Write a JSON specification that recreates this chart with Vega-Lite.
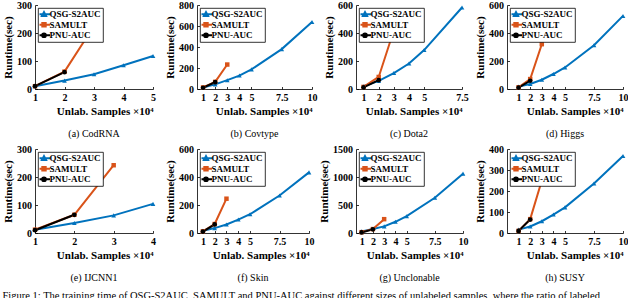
{
  "$schema": "https://vega.github.io/schema/vega-lite/v6.json",
  "padding": {"left": 2, "top": 0, "right": 0, "bottom": 0},
  "background": "white",
  "columns": 4,
  "align": "each",
  "bounds": "flush",
  "spacing": {"row": 60, "column": 44},
  "resolve": {"scale": {"color": "independent"}, "legend": {"color": "independent"}},
  "title": {"text": "Figure 1: The training time of QSG-S2AUC, SAMULT and PNU-AUC against different sizes of unlabeled samples, where the ratio of labeled", "orient": "bottom", "anchor": "start", "offset": 8, "fontSize": 10.5, "fontWeight": "normal", "font": "Liberation Serif", "color": "#000"},
  "config": {
    "view": {"stroke": null},
    "font": "Liberation Serif",
    "title": {"orient": "bottom", "offset": 12, "fontSize": 10, "fontWeight": "normal", "font": "Liberation Serif", "anchor": "middle", "color": "#000"},
    "axis": {"grid": false, "domainColor": "#000", "domainWidth": 0.8, "tickColor": "#000", "tickSize": -2.5, "tickWidth": 0.8, "labelFont": "Liberation Serif", "labelFontWeight": "bold", "labelFontSize": 10, "labelColor": "#000", "titleFont": "Liberation Serif", "titleFontWeight": "bold", "titleFontSize": 11, "titleColor": "#000", "labelOverlap": false, "labelFlush": false, "labelExpr": "toString(datum.value)"},
    "axisX": {"labelPadding": 6, "titlePadding": 3, "titleAnchor": "end"},
    "axisY": {"labelPadding": 6, "titlePadding": 3},
    "legend": {"orient": "top-left", "offset": 3, "padding": 1.5, "rowPadding": 0.5, "clipHeight": 9.5, "fillColor": "white", "strokeColor": "#000", "strokeWidth": 0.8, "labelFont": "Liberation Serif", "labelFontWeight": "bold", "labelFontSize": 9, "labelColor": "#000", "symbolSize": 36, "symbolOffset": 0, "labelOffset": 1, "symbolStrokeWidth": 1.8}
  },
  "concat": [
    {
      "width": 118, "height": 84,
      "title": "(a) CodRNA",
      "data": {"values": [
        {"n": 1, "t": 10, "s": "QSG-S2AUC"}, {"n": 2, "t": 30, "s": "QSG-S2AUC"}, {"n": 3, "t": 53, "s": "QSG-S2AUC"}, {"n": 4, "t": 85, "s": "QSG-S2AUC"}, {"n": 5, "t": 118, "s": "QSG-S2AUC"},
        {"n": 1, "t": 10, "s": "SAMULT"}, {"n": 2, "t": 62, "s": "SAMULT"}, {"n": 3, "t": 225, "s": "SAMULT"},
        {"n": 1, "t": 10, "s": "PNU-AUC"}, {"n": 2, "t": 60, "s": "PNU-AUC"}
      ]},
      "encoding": {
        "x": {"field": "n", "type": "quantitative", "scale": {"domain": [1, 5], "nice": false, "zero": false}, "axis": {"values": [1, 2, 3, 4, 5], "title": "Unlab. Samples ×10⁴"}},
        "y": {"field": "t", "type": "quantitative", "scale": {"domain": [0, 300], "nice": false}, "axis": {"values": [0, 100, 200, 300], "title": "Runtime(sec)"}}
      },
      "layer": [
        {"mark": {"type": "line", "strokeWidth": 2}, "encoding": {"color": {"field": "s", "type": "nominal", "scale": {"domain": ["QSG-S2AUC", "SAMULT", "PNU-AUC"], "range": ["#0072BD", "#D95319", "#000000"]},
          "legend": {"title": null, "fillColor": "white", "strokeColor": "#000", "symbolSize": 36, "symbolStrokeWidth": 1.8, "symbolOpacity": 1, "clipHeight": 9.5, "symbolOffset": 0, "labelOffset": 1,
            "symbolType": {"expr": "datum.value === 'QSG-S2AUC' ? 'M-2,0H2M0,-0.8L0.75,0.6L-0.75,0.6Z' : datum.value === 'SAMULT' ? 'M-2,0H2M-0.6,-0.6H0.6V0.6H-0.6Z' : 'M-2,0H2M-0.65,0A0.65,0.65,0,1,1,0.65,0A0.65,0.65,0,1,1,-0.65,0Z'"},
            "symbolFillColor": {"expr": "datum.value === 'QSG-S2AUC' ? '#0072BD' : datum.value === 'SAMULT' ? '#D95319' : '#000000'"}}}}},
        {"transform": [{"filter": "datum.s === 'QSG-S2AUC'"}], "mark": {"type": "point", "filled": true, "shape": "triangle-up", "size": 22, "opacity": 1, "color": "#0072BD"}, "encoding": {}},
        {"transform": [{"filter": "datum.s === 'SAMULT'"}], "mark": {"type": "point", "filled": true, "shape": "square", "size": 20, "opacity": 1, "color": "#D95319"}, "encoding": {}},
        {"transform": [{"filter": "datum.s === 'PNU-AUC'"}], "mark": {"type": "point", "filled": true, "shape": "circle", "size": 22, "opacity": 1, "color": "#000000"}, "encoding": {}}
      ]
    },
    {
      "width": 115, "height": 84,
      "title": "(b) Covtype",
      "data": {"values": [
        {"n": 1, "t": 15, "s": "QSG-S2AUC"}, {"n": 2, "t": 44, "s": "QSG-S2AUC"}, {"n": 3, "t": 84, "s": "QSG-S2AUC"}, {"n": 4, "t": 128, "s": "QSG-S2AUC"}, {"n": 5, "t": 187, "s": "QSG-S2AUC"}, {"n": 7.5, "t": 380, "s": "QSG-S2AUC"}, {"n": 10, "t": 638, "s": "QSG-S2AUC"},
        {"n": 1, "t": 15, "s": "SAMULT"}, {"n": 2, "t": 68, "s": "SAMULT"}, {"n": 3, "t": 233, "s": "SAMULT"},
        {"n": 1, "t": 12, "s": "PNU-AUC"}, {"n": 2, "t": 65, "s": "PNU-AUC"}
      ]},
      "encoding": {
        "x": {"field": "n", "type": "quantitative", "scale": {"domain": [0.5, 10], "nice": false, "zero": false}, "axis": {"values": [1, 2, 3, 4, 5, 7.5, 10], "title": "Unlab. Samples ×10⁴"}},
        "y": {"field": "t", "type": "quantitative", "scale": {"domain": [0, 800], "nice": false}, "axis": {"values": [0, 200, 400, 600, 800], "title": "Runtime(sec)"}}
      },
      "layer": [
        {"mark": {"type": "line", "strokeWidth": 2}, "encoding": {"color": {"field": "s", "type": "nominal", "scale": {"domain": ["QSG-S2AUC", "SAMULT", "PNU-AUC"], "range": ["#0072BD", "#D95319", "#000000"]},
          "legend": {"title": null, "fillColor": "white", "strokeColor": "#000", "symbolSize": 36, "symbolStrokeWidth": 1.8, "symbolOpacity": 1, "clipHeight": 9.5, "symbolOffset": 0, "labelOffset": 1,
            "symbolType": {"expr": "datum.value === 'QSG-S2AUC' ? 'M-2,0H2M0,-0.8L0.75,0.6L-0.75,0.6Z' : datum.value === 'SAMULT' ? 'M-2,0H2M-0.6,-0.6H0.6V0.6H-0.6Z' : 'M-2,0H2M-0.65,0A0.65,0.65,0,1,1,0.65,0A0.65,0.65,0,1,1,-0.65,0Z'"},
            "symbolFillColor": {"expr": "datum.value === 'QSG-S2AUC' ? '#0072BD' : datum.value === 'SAMULT' ? '#D95319' : '#000000'"}}}}},
        {"transform": [{"filter": "datum.s === 'QSG-S2AUC'"}], "mark": {"type": "point", "filled": true, "shape": "triangle-up", "size": 22, "opacity": 1, "color": "#0072BD"}, "encoding": {}},
        {"transform": [{"filter": "datum.s === 'SAMULT'"}], "mark": {"type": "point", "filled": true, "shape": "square", "size": 20, "opacity": 1, "color": "#D95319"}, "encoding": {}},
        {"transform": [{"filter": "datum.s === 'PNU-AUC'"}], "mark": {"type": "point", "filled": true, "shape": "circle", "size": 22, "opacity": 1, "color": "#000000"}, "encoding": {}}
      ]
    },
    {
      "width": 106, "height": 84,
      "title": "(c) Dota2",
      "data": {"values": [
        {"n": 1, "t": 20, "s": "QSG-S2AUC"}, {"n": 2, "t": 58, "s": "QSG-S2AUC"}, {"n": 3, "t": 114, "s": "QSG-S2AUC"}, {"n": 4, "t": 182, "s": "QSG-S2AUC"}, {"n": 5, "t": 278, "s": "QSG-S2AUC"}, {"n": 7.5, "t": 582, "s": "QSG-S2AUC"},
        {"n": 1, "t": 15, "s": "SAMULT"}, {"n": 2, "t": 86, "s": "SAMULT"}, {"n": 3, "t": 420, "s": "SAMULT"},
        {"n": 1, "t": 12, "s": "PNU-AUC"}, {"n": 2, "t": 63, "s": "PNU-AUC"}
      ]},
      "encoding": {
        "x": {"field": "n", "type": "quantitative", "scale": {"domain": [0.5, 7.5], "nice": false, "zero": false}, "axis": {"values": [1, 2, 3, 4, 5, 7.5], "title": "Unlab. Samples ×10⁴"}},
        "y": {"field": "t", "type": "quantitative", "scale": {"domain": [0, 600], "nice": false}, "axis": {"values": [0, 200, 400, 600], "title": "Runtime(sec)"}}
      },
      "layer": [
        {"mark": {"type": "line", "strokeWidth": 2}, "encoding": {"color": {"field": "s", "type": "nominal", "scale": {"domain": ["QSG-S2AUC", "SAMULT", "PNU-AUC"], "range": ["#0072BD", "#D95319", "#000000"]},
          "legend": {"title": null, "fillColor": "white", "strokeColor": "#000", "symbolSize": 36, "symbolStrokeWidth": 1.8, "symbolOpacity": 1, "clipHeight": 9.5, "symbolOffset": 0, "labelOffset": 1,
            "symbolType": {"expr": "datum.value === 'QSG-S2AUC' ? 'M-2,0H2M0,-0.8L0.75,0.6L-0.75,0.6Z' : datum.value === 'SAMULT' ? 'M-2,0H2M-0.6,-0.6H0.6V0.6H-0.6Z' : 'M-2,0H2M-0.65,0A0.65,0.65,0,1,1,0.65,0A0.65,0.65,0,1,1,-0.65,0Z'"},
            "symbolFillColor": {"expr": "datum.value === 'QSG-S2AUC' ? '#0072BD' : datum.value === 'SAMULT' ? '#D95319' : '#000000'"}}}}},
        {"transform": [{"filter": "datum.s === 'QSG-S2AUC'"}], "mark": {"type": "point", "filled": true, "shape": "triangle-up", "size": 22, "opacity": 1, "color": "#0072BD"}, "encoding": {}},
        {"transform": [{"filter": "datum.s === 'SAMULT'"}], "mark": {"type": "point", "filled": true, "shape": "square", "size": 20, "opacity": 1, "color": "#D95319"}, "encoding": {}},
        {"transform": [{"filter": "datum.s === 'PNU-AUC'"}], "mark": {"type": "point", "filled": true, "shape": "circle", "size": 22, "opacity": 1, "color": "#000000"}, "encoding": {}}
      ]
    },
    {
      "width": 116, "height": 84,
      "title": "(d) Higgs",
      "data": {"values": [
        {"n": 1, "t": 17, "s": "QSG-S2AUC"}, {"n": 2, "t": 36, "s": "QSG-S2AUC"}, {"n": 3, "t": 66, "s": "QSG-S2AUC"}, {"n": 4, "t": 107, "s": "QSG-S2AUC"}, {"n": 5, "t": 154, "s": "QSG-S2AUC"}, {"n": 7.5, "t": 313, "s": "QSG-S2AUC"}, {"n": 10, "t": 522, "s": "QSG-S2AUC"},
        {"n": 1, "t": 12, "s": "SAMULT"}, {"n": 2, "t": 71, "s": "SAMULT"}, {"n": 3, "t": 320, "s": "SAMULT"},
        {"n": 1, "t": 10, "s": "PNU-AUC"}, {"n": 2, "t": 59, "s": "PNU-AUC"}
      ]},
      "encoding": {
        "x": {"field": "n", "type": "quantitative", "scale": {"domain": [0, 10], "nice": false, "zero": false}, "axis": {"values": [1, 2, 3, 4, 5, 7.5, 10], "title": "Unlab. Samples ×10⁴"}},
        "y": {"field": "t", "type": "quantitative", "scale": {"domain": [0, 600], "nice": false}, "axis": {"values": [0, 200, 400, 600], "title": "Runtime(sec)"}}
      },
      "layer": [
        {"mark": {"type": "line", "strokeWidth": 2}, "encoding": {"color": {"field": "s", "type": "nominal", "scale": {"domain": ["QSG-S2AUC", "SAMULT", "PNU-AUC"], "range": ["#0072BD", "#D95319", "#000000"]},
          "legend": {"title": null, "fillColor": "white", "strokeColor": "#000", "symbolSize": 36, "symbolStrokeWidth": 1.8, "symbolOpacity": 1, "clipHeight": 9.5, "symbolOffset": 0, "labelOffset": 1,
            "symbolType": {"expr": "datum.value === 'QSG-S2AUC' ? 'M-2,0H2M0,-0.8L0.75,0.6L-0.75,0.6Z' : datum.value === 'SAMULT' ? 'M-2,0H2M-0.6,-0.6H0.6V0.6H-0.6Z' : 'M-2,0H2M-0.65,0A0.65,0.65,0,1,1,0.65,0A0.65,0.65,0,1,1,-0.65,0Z'"},
            "symbolFillColor": {"expr": "datum.value === 'QSG-S2AUC' ? '#0072BD' : datum.value === 'SAMULT' ? '#D95319' : '#000000'"}}}}},
        {"transform": [{"filter": "datum.s === 'QSG-S2AUC'"}], "mark": {"type": "point", "filled": true, "shape": "triangle-up", "size": 22, "opacity": 1, "color": "#0072BD"}, "encoding": {}},
        {"transform": [{"filter": "datum.s === 'SAMULT'"}], "mark": {"type": "point", "filled": true, "shape": "square", "size": 20, "opacity": 1, "color": "#D95319"}, "encoding": {}},
        {"transform": [{"filter": "datum.s === 'PNU-AUC'"}], "mark": {"type": "point", "filled": true, "shape": "circle", "size": 22, "opacity": 1, "color": "#000000"}, "encoding": {}}
      ]
    },
    {
      "width": 118, "height": 84,
      "title": "(e) IJCNN1",
      "data": {"values": [
        {"n": 1, "t": 12, "s": "QSG-S2AUC"}, {"n": 2, "t": 36, "s": "QSG-S2AUC"}, {"n": 3, "t": 63, "s": "QSG-S2AUC"}, {"n": 4, "t": 104, "s": "QSG-S2AUC"},
        {"n": 1, "t": 12, "s": "SAMULT"}, {"n": 2, "t": 65, "s": "SAMULT"}, {"n": 3, "t": 242, "s": "SAMULT"},
        {"n": 1, "t": 10, "s": "PNU-AUC"}, {"n": 2, "t": 65, "s": "PNU-AUC"}
      ]},
      "encoding": {
        "x": {"field": "n", "type": "quantitative", "scale": {"domain": [1, 4], "nice": false, "zero": false}, "axis": {"values": [1, 2, 3, 4], "title": "Unlab. Samples ×10⁴"}},
        "y": {"field": "t", "type": "quantitative", "scale": {"domain": [0, 300], "nice": false}, "axis": {"values": [0, 100, 200, 300], "title": "Runtime(sec)"}}
      },
      "layer": [
        {"mark": {"type": "line", "strokeWidth": 2}, "encoding": {"color": {"field": "s", "type": "nominal", "scale": {"domain": ["QSG-S2AUC", "SAMULT", "PNU-AUC"], "range": ["#0072BD", "#D95319", "#000000"]},
          "legend": {"title": null, "fillColor": "white", "strokeColor": "#000", "symbolSize": 36, "symbolStrokeWidth": 1.8, "symbolOpacity": 1, "clipHeight": 9.5, "symbolOffset": 0, "labelOffset": 1,
            "symbolType": {"expr": "datum.value === 'QSG-S2AUC' ? 'M-2,0H2M0,-0.8L0.75,0.6L-0.75,0.6Z' : datum.value === 'SAMULT' ? 'M-2,0H2M-0.6,-0.6H0.6V0.6H-0.6Z' : 'M-2,0H2M-0.65,0A0.65,0.65,0,1,1,0.65,0A0.65,0.65,0,1,1,-0.65,0Z'"},
            "symbolFillColor": {"expr": "datum.value === 'QSG-S2AUC' ? '#0072BD' : datum.value === 'SAMULT' ? '#D95319' : '#000000'"}}}}},
        {"transform": [{"filter": "datum.s === 'QSG-S2AUC'"}], "mark": {"type": "point", "filled": true, "shape": "triangle-up", "size": 22, "opacity": 1, "color": "#0072BD"}, "encoding": {}},
        {"transform": [{"filter": "datum.s === 'SAMULT'"}], "mark": {"type": "point", "filled": true, "shape": "square", "size": 20, "opacity": 1, "color": "#D95319"}, "encoding": {}},
        {"transform": [{"filter": "datum.s === 'PNU-AUC'"}], "mark": {"type": "point", "filled": true, "shape": "circle", "size": 22, "opacity": 1, "color": "#000000"}, "encoding": {}}
      ]
    },
    {
      "width": 112, "height": 84,
      "title": "(f) Skin",
      "data": {"values": [
        {"n": 1, "t": 16, "s": "QSG-S2AUC"}, {"n": 2, "t": 35, "s": "QSG-S2AUC"}, {"n": 3, "t": 61, "s": "QSG-S2AUC"}, {"n": 4, "t": 96, "s": "QSG-S2AUC"}, {"n": 5, "t": 134, "s": "QSG-S2AUC"}, {"n": 7.5, "t": 268, "s": "QSG-S2AUC"}, {"n": 10, "t": 433, "s": "QSG-S2AUC"},
        {"n": 1, "t": 12, "s": "SAMULT"}, {"n": 2, "t": 64, "s": "SAMULT"}, {"n": 3, "t": 245, "s": "SAMULT"},
        {"n": 1, "t": 10, "s": "PNU-AUC"}, {"n": 2, "t": 61, "s": "PNU-AUC"}
      ]},
      "encoding": {
        "x": {"field": "n", "type": "quantitative", "scale": {"domain": [0.5, 10], "nice": false, "zero": false}, "axis": {"values": [1, 2, 3, 4, 5, 7.5, 10], "title": "Unlab. Samples ×10⁴"}},
        "y": {"field": "t", "type": "quantitative", "scale": {"domain": [0, 600], "nice": false}, "axis": {"values": [0, 200, 400, 600], "title": "Runtime(sec)"}}
      },
      "layer": [
        {"mark": {"type": "line", "strokeWidth": 2}, "encoding": {"color": {"field": "s", "type": "nominal", "scale": {"domain": ["QSG-S2AUC", "SAMULT", "PNU-AUC"], "range": ["#0072BD", "#D95319", "#000000"]},
          "legend": {"title": null, "fillColor": "white", "strokeColor": "#000", "symbolSize": 36, "symbolStrokeWidth": 1.8, "symbolOpacity": 1, "clipHeight": 9.5, "symbolOffset": 0, "labelOffset": 1,
            "symbolType": {"expr": "datum.value === 'QSG-S2AUC' ? 'M-2,0H2M0,-0.8L0.75,0.6L-0.75,0.6Z' : datum.value === 'SAMULT' ? 'M-2,0H2M-0.6,-0.6H0.6V0.6H-0.6Z' : 'M-2,0H2M-0.65,0A0.65,0.65,0,1,1,0.65,0A0.65,0.65,0,1,1,-0.65,0Z'"},
            "symbolFillColor": {"expr": "datum.value === 'QSG-S2AUC' ? '#0072BD' : datum.value === 'SAMULT' ? '#D95319' : '#000000'"}}}}},
        {"transform": [{"filter": "datum.s === 'QSG-S2AUC'"}], "mark": {"type": "point", "filled": true, "shape": "triangle-up", "size": 22, "opacity": 1, "color": "#0072BD"}, "encoding": {}},
        {"transform": [{"filter": "datum.s === 'SAMULT'"}], "mark": {"type": "point", "filled": true, "shape": "square", "size": 20, "opacity": 1, "color": "#D95319"}, "encoding": {}},
        {"transform": [{"filter": "datum.s === 'PNU-AUC'"}], "mark": {"type": "point", "filled": true, "shape": "circle", "size": 22, "opacity": 1, "color": "#000000"}, "encoding": {}}
      ]
    },
    {
      "width": 107, "height": 84,
      "title": "(g) Unclonable",
      "data": {"values": [
        {"n": 1, "t": 29, "s": "QSG-S2AUC"}, {"n": 2, "t": 70, "s": "QSG-S2AUC"}, {"n": 3, "t": 118, "s": "QSG-S2AUC"}, {"n": 4, "t": 200, "s": "QSG-S2AUC"}, {"n": 5, "t": 300, "s": "QSG-S2AUC"}, {"n": 7.5, "t": 630, "s": "QSG-S2AUC"}, {"n": 10, "t": 1060, "s": "QSG-S2AUC"},
        {"n": 1, "t": 15, "s": "SAMULT"}, {"n": 2, "t": 70, "s": "SAMULT"}, {"n": 3, "t": 247, "s": "SAMULT"},
        {"n": 1, "t": 10, "s": "PNU-AUC"}, {"n": 2, "t": 65, "s": "PNU-AUC"}
      ]},
      "encoding": {
        "x": {"field": "n", "type": "quantitative", "scale": {"domain": [0.5, 10], "nice": false, "zero": false}, "axis": {"values": [1, 2, 3, 4, 5, 7.5, 10], "title": "Unlab. Samples ×10⁴"}},
        "y": {"field": "t", "type": "quantitative", "scale": {"domain": [0, 1500], "nice": false}, "axis": {"values": [0, 500, 1000, 1500], "title": "Runtime(sec)"}}
      },
      "layer": [
        {"mark": {"type": "line", "strokeWidth": 2}, "encoding": {"color": {"field": "s", "type": "nominal", "scale": {"domain": ["QSG-S2AUC", "SAMULT", "PNU-AUC"], "range": ["#0072BD", "#D95319", "#000000"]},
          "legend": {"title": null, "fillColor": "white", "strokeColor": "#000", "symbolSize": 36, "symbolStrokeWidth": 1.8, "symbolOpacity": 1, "clipHeight": 9.5, "symbolOffset": 0, "labelOffset": 1,
            "symbolType": {"expr": "datum.value === 'QSG-S2AUC' ? 'M-2,0H2M0,-0.8L0.75,0.6L-0.75,0.6Z' : datum.value === 'SAMULT' ? 'M-2,0H2M-0.6,-0.6H0.6V0.6H-0.6Z' : 'M-2,0H2M-0.65,0A0.65,0.65,0,1,1,0.65,0A0.65,0.65,0,1,1,-0.65,0Z'"},
            "symbolFillColor": {"expr": "datum.value === 'QSG-S2AUC' ? '#0072BD' : datum.value === 'SAMULT' ? '#D95319' : '#000000'"}}}}},
        {"transform": [{"filter": "datum.s === 'QSG-S2AUC'"}], "mark": {"type": "point", "filled": true, "shape": "triangle-up", "size": 22, "opacity": 1, "color": "#0072BD"}, "encoding": {}},
        {"transform": [{"filter": "datum.s === 'SAMULT'"}], "mark": {"type": "point", "filled": true, "shape": "square", "size": 20, "opacity": 1, "color": "#D95319"}, "encoding": {}},
        {"transform": [{"filter": "datum.s === 'PNU-AUC'"}], "mark": {"type": "point", "filled": true, "shape": "circle", "size": 22, "opacity": 1, "color": "#000000"}, "encoding": {}}
      ]
    },
    {
      "width": 116, "height": 84,
      "title": "(h) SUSY",
      "data": {"values": [
        {"n": 1, "t": 16, "s": "QSG-S2AUC"}, {"n": 2, "t": 31, "s": "QSG-S2AUC"}, {"n": 3, "t": 56, "s": "QSG-S2AUC"}, {"n": 4, "t": 88, "s": "QSG-S2AUC"}, {"n": 5, "t": 122, "s": "QSG-S2AUC"}, {"n": 7.5, "t": 236, "s": "QSG-S2AUC"}, {"n": 10, "t": 367, "s": "QSG-S2AUC"},
        {"n": 1, "t": 10, "s": "SAMULT"}, {"n": 2, "t": 66, "s": "SAMULT"}, {"n": 3, "t": 250, "s": "SAMULT"},
        {"n": 1, "t": 10, "s": "PNU-AUC"}, {"n": 2, "t": 64, "s": "PNU-AUC"}
      ]},
      "encoding": {
        "x": {"field": "n", "type": "quantitative", "scale": {"domain": [0, 10], "nice": false, "zero": false}, "axis": {"values": [1, 2, 3, 4, 5, 7.5, 10], "title": "Unlab. Samples ×10⁴"}},
        "y": {"field": "t", "type": "quantitative", "scale": {"domain": [0, 400], "nice": false}, "axis": {"values": [0, 100, 200, 300, 400], "title": "Runtime(sec)"}}
      },
      "layer": [
        {"mark": {"type": "line", "strokeWidth": 2}, "encoding": {"color": {"field": "s", "type": "nominal", "scale": {"domain": ["QSG-S2AUC", "SAMULT", "PNU-AUC"], "range": ["#0072BD", "#D95319", "#000000"]},
          "legend": {"title": null, "fillColor": "white", "strokeColor": "#000", "symbolSize": 36, "symbolStrokeWidth": 1.8, "symbolOpacity": 1, "clipHeight": 9.5, "symbolOffset": 0, "labelOffset": 1,
            "symbolType": {"expr": "datum.value === 'QSG-S2AUC' ? 'M-2,0H2M0,-0.8L0.75,0.6L-0.75,0.6Z' : datum.value === 'SAMULT' ? 'M-2,0H2M-0.6,-0.6H0.6V0.6H-0.6Z' : 'M-2,0H2M-0.65,0A0.65,0.65,0,1,1,0.65,0A0.65,0.65,0,1,1,-0.65,0Z'"},
            "symbolFillColor": {"expr": "datum.value === 'QSG-S2AUC' ? '#0072BD' : datum.value === 'SAMULT' ? '#D95319' : '#000000'"}}}}},
        {"transform": [{"filter": "datum.s === 'QSG-S2AUC'"}], "mark": {"type": "point", "filled": true, "shape": "triangle-up", "size": 22, "opacity": 1, "color": "#0072BD"}, "encoding": {}},
        {"transform": [{"filter": "datum.s === 'SAMULT'"}], "mark": {"type": "point", "filled": true, "shape": "square", "size": 20, "opacity": 1, "color": "#D95319"}, "encoding": {}},
        {"transform": [{"filter": "datum.s === 'PNU-AUC'"}], "mark": {"type": "point", "filled": true, "shape": "circle", "size": 22, "opacity": 1, "color": "#000000"}, "encoding": {}}
      ]
    }
  ]
}
